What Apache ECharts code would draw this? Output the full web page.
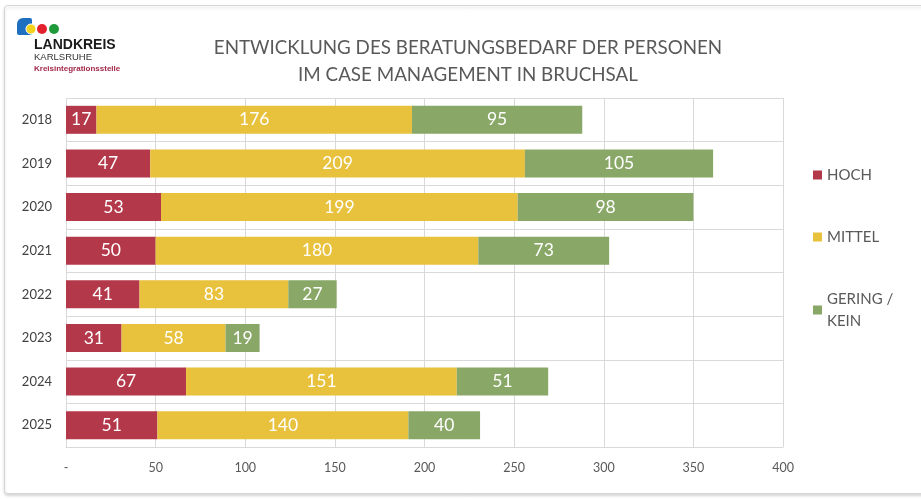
<!DOCTYPE html>
<html><head><meta charset="utf-8">
<script src="https://cdn.jsdelivr.net/npm/echarts@6/dist/echarts.min.js"></script>
<style>html,body{margin:0;padding:0;background:#fff}#c{width:921px;height:499px}</style>
</head><body><div id="c"></div>
<script>
const years = ['2018','2019','2020','2021','2022','2023','2024','2025'];
const hoch = [17,47,53,50,41,31,67,51];
const mittel = [176,209,199,180,83,58,151,140];
const gering = [95,105,98,73,27,19,51,40];
const seriesNames = ['HOCH','MITTEL','GERING / KEIN'];
const colors = ['#b3394a','#e8c13d','#89a767'];
const xTicks = {min:0,max:400,interval:50};

const FONT = 'Lato';
const chart = echarts.init(document.getElementById('c'));
const mk = (name, data, color) => ({
  name, type:'bar', stack:'t', data, barWidth:28,
  itemStyle:{color},
  label:{show:true, position:'inside', color:'#fff', fontSize:17.5, fontFamily:FONT},
  emphasis:{disabled:true}
});
chart.setOption({
  animation:false,
  textStyle:{fontFamily:FONT},
  title:{
    text:'ENTWICKLUNG DES BERATUNGSBEDARF DER PERSONEN\nIM CASE MANAGEMENT IN BRUCHSAL',
    left:463, top:29, textAlign:'center',
    textStyle:{fontSize:18.8, fontWeight:'normal', color:'#595959', lineHeight:27, fontFamily:FONT}
  },
  legend:{
    orient:'vertical', left:808, top:159, itemGap:40,
    itemWidth:9, itemHeight:9, icon:'rect',
    data:seriesNames,
    formatter: n => n.replace(' / ', ' /\n'),
    textStyle:{fontSize:15, color:'#595959', lineHeight:22, fontFamily:FONT}
  },
  grid:{left:66, right:138, top:98, bottom:52},
  xAxis:{
    type:'value', min:xTicks.min, max:xTicks.max, interval:xTicks.interval,
    axisLine:{show:true, lineStyle:{color:'#d9d9d9'}},
    axisTick:{show:false},
    splitLine:{show:true, lineStyle:{color:'#d9d9d9'}},
    axisLabel:{color:'#595959', fontSize:12.5, margin:14, formatter:v => v===0 ? '-' : String(v)}
  },
  yAxis:{
    type:'category', data:years, inverse:true,
    axisLine:{show:false}, axisTick:{show:false},
    splitLine:{show:true, lineStyle:{color:'#d9d9d9'}},
    axisLabel:{color:'#404040', fontSize:13, margin:14}
  },
  series:[mk(seriesNames[0],hoch,colors[0]), mk(seriesNames[1],mittel,colors[1]), mk(seriesNames[2],gering,colors[2])],
  graphic:[
    {type:'rect', z:-10, shape:{x:4.5,y:5.5,width:930,height:488,r:3}, style:{fill:'#fff', stroke:'#d6d6d6', lineWidth:1, shadowBlur:3, shadowOffsetY:2, shadowColor:'rgba(0,0,0,0.15)'}},
    {type:'rect', shape:{x:17,y:18,width:15,height:17,r:[6,2,2,2]}, style:{fill:'#1f6fc1'}},
    {type:'circle', shape:{cx:31,cy:29,r:5}, style:{fill:'#f2d21b', stroke:'#fff', lineWidth:1}},
    {type:'circle', shape:{cx:42,cy:29,r:5}, style:{fill:'#e2202e'}},
    {type:'circle', shape:{cx:54,cy:29,r:5}, style:{fill:'#1f9a3a'}},
    {type:'text', left:34, top:38, style:{text:'LANDKREIS', fontSize:14, fontWeight:'bold', fill:'#1a1a1a', fontFamily:'Liberation Sans Narrow, Liberation Sans'}},
    {type:'text', left:34, top:52, style:{text:'KARLSRUHE', fontSize:9.5, fill:'#333', fontFamily:'Liberation Sans'}},
    {type:'text', left:34, top:65, style:{text:'Kreisintegrationsstelle', fontSize:8, fontWeight:'bold', fill:'#a4284a', fontFamily:'Liberation Sans'}}
  ]
});
</script></body></html>
